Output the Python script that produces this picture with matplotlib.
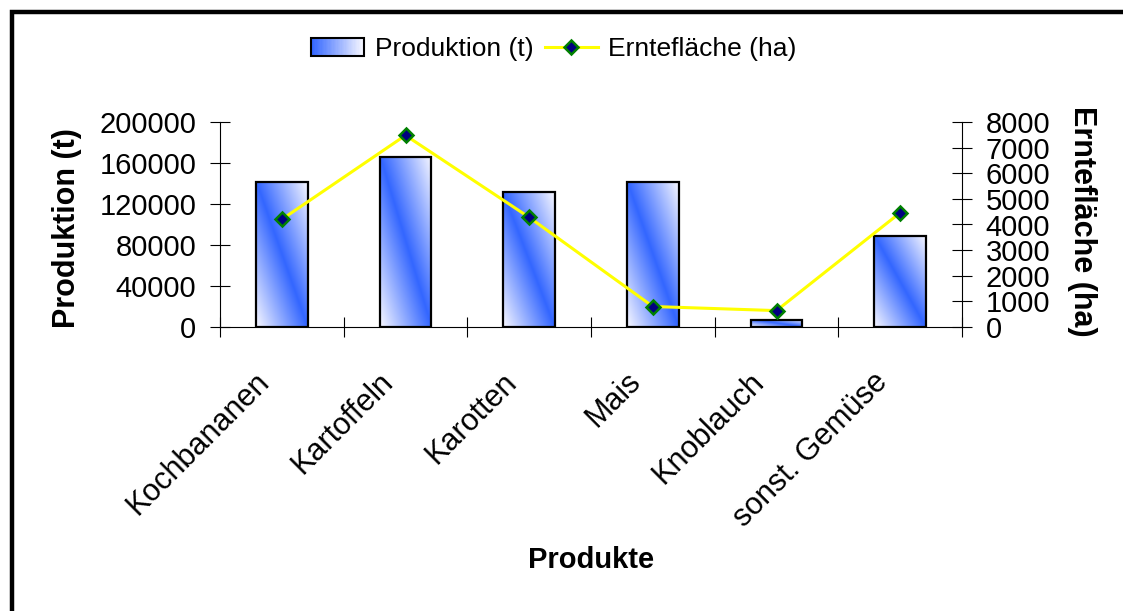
import numpy as np
import matplotlib
matplotlib.use("Agg")
import matplotlib.pyplot as plt
from matplotlib.patches import Rectangle
from matplotlib.lines import Line2D
from matplotlib.legend_handler import HandlerBase

plt.rcParams['font.family'] = ['Liberation Sans', 'DejaVu Sans']

categories = ["Kochbananen", "Kartoffeln", "Karotten", "Mais", "Knoblauch", "sonst. Gemüse"]
produktion = [141500, 166000, 131500, 141500, 7000, 89000]
flaeche = [4200, 7480, 4280, 800, 640, 4460]
y1_ticks = [0, 40000, 80000, 120000, 160000, 200000]
y2_ticks = [0, 1000, 2000, 3000, 4000, 5000, 6000, 7000, 8000]

BLUE = np.array([0.20, 0.40, 1.0])
WHITE = np.array([0.97, 0.97, 1.0])


def grad_img(n=200, m=80):
    y = np.linspace(0, 1, n)[:, None]
    x = np.linspace(0, 1, m)[None, :]
    s = x + y - 1
    w = np.clip(1 - np.abs(s), 0, 1)[..., None]
    return WHITE * (1 - w) + BLUE * w


class HandlerGradient(HandlerBase):
    def create_artists(self, legend, orig_handle, xdescent, ydescent,
                       width, height, fontsize, trans):
        arts = []
        n = 40
        for i in range(n):
            t = i / (n - 1)
            w = 1 - t
            c = WHITE * (1 - w) + BLUE * w
            r = Rectangle((-xdescent + width * i / n, -ydescent), width / n + 0.3, height,
                          facecolor=c, edgecolor='none', transform=trans)
            arts.append(r)
        outline = Rectangle((-xdescent, -ydescent), width, height, facecolor='none',
                            edgecolor='black', lw=1.5, transform=trans)
        arts.append(outline)
        return arts


W, H = 1123, 611
fig = plt.figure(figsize=(W / 100, H / 100), dpi=100)
fig.patch.set_facecolor('white')

# outer frame (only top and left visible)
frame = Rectangle((12 / W, -0.1), 1.2, 1 - 12 / H + 0.1, transform=fig.transFigure,
                  facecolor='none', edgecolor='black', lw=3.2, zorder=0)
fig.patches.append(frame)

ax = fig.add_axes([220 / W, (H - 327) / H, (962 - 220) / W, (327 - 122) / H])
ax2 = ax.twinx()

x = np.arange(len(categories))
bw = 0.42
img = grad_img()
for xi, v in zip(x, produktion):
    rect = Rectangle((xi - bw / 2, 0), bw, v, facecolor='none', edgecolor='black',
                     lw=1.6, zorder=3)
    ax.add_patch(rect)
    im = ax.imshow(img, extent=[xi - bw / 2, xi + bw / 2, 0, v], origin='lower',
                   aspect='auto', zorder=2, interpolation='bilinear')
    im.set_clip_path(rect)

ax.set_xlim(-0.5, len(categories) - 0.5)
ax.set_ylim(0, 200000)
ax.set_yticks(y1_ticks)
ax.set_yticklabels([str(t) for t in y1_ticks])
ax.set_xticks(np.arange(len(categories) + 1) - 0.5)
ax.set_xticklabels([])
ax.tick_params(axis='x', which='major', direction='inout', length=14, width=0.8)
ax.tick_params(axis='y', direction='inout', length=14, width=0.8, labelsize=21, pad=10)
for s in ['top', 'right']:
    ax.spines[s].set_visible(False)
for s in ['left', 'bottom']:
    ax.spines[s].set_linewidth(0.8)

for xi, cat in zip(x, categories):
    ax.annotate(cat, xy=(xi, 0), xycoords=('data', 'axes fraction'),
                xytext=(-11 * 0.72, -56 * 0.72), textcoords='offset points',
                rotation=45, ha='right', va='baseline', rotation_mode='anchor',
                fontsize=22, annotation_clip=False)

ax2.plot(x, flaeche, color='#FFFF00', lw=2.2, marker='D', markersize=7,
         markerfacecolor='#000080', markeredgecolor='#008000', markeredgewidth=1.8,
         zorder=5)
ax2.set_ylim(0, 8000)
ax2.set_yticks(y2_ticks)
ax2.set_yticklabels([str(t) for t in y2_ticks])
ax2.tick_params(axis='y', direction='inout', length=14, width=0.8, labelsize=21, pad=10)
for s in ['top', 'left', 'bottom']:
    ax2.spines[s].set_visible(False)
ax2.spines['right'].set_linewidth(0.8)
ax2.set_xlim(-0.5, len(categories) - 0.5)

fig.text(67 / W, 1 - 228 / H, "Produktion (t)", rotation=90, ha='center', va='center',
         fontsize=22, fontweight='bold')
fig.text(1082 / W, 1 - 221 / H, "Erntefläche (ha)", rotation=270, ha='center', va='center',
         fontsize=22, fontweight='bold')
fig.text(591 / W, 1 - 560 / H, "Produkte", ha='center', va='center',
         fontsize=21, fontweight='bold')

bar_handle = Rectangle((0, 0), 1, 1)
line_handle = Line2D([], [], color='#FFFF00', lw=2.2, marker='D', markersize=7,
                     markerfacecolor='#000080', markeredgecolor='#008000', markeredgewidth=1.8)
fig.legend([bar_handle, line_handle], ["Produktion (t)", "Erntefläche (ha)"],
           handler_map={bar_handle: HandlerGradient()},
           loc='center', bbox_to_anchor=(554 / W, 1 - 49 / H), ncol=2, frameon=False,
           fontsize=19, handlelength=2.0, handletextpad=0.4, columnspacing=0.45,
           borderpad=0.2)

fig.savefig("out.png", dpi=100, facecolor='white')
